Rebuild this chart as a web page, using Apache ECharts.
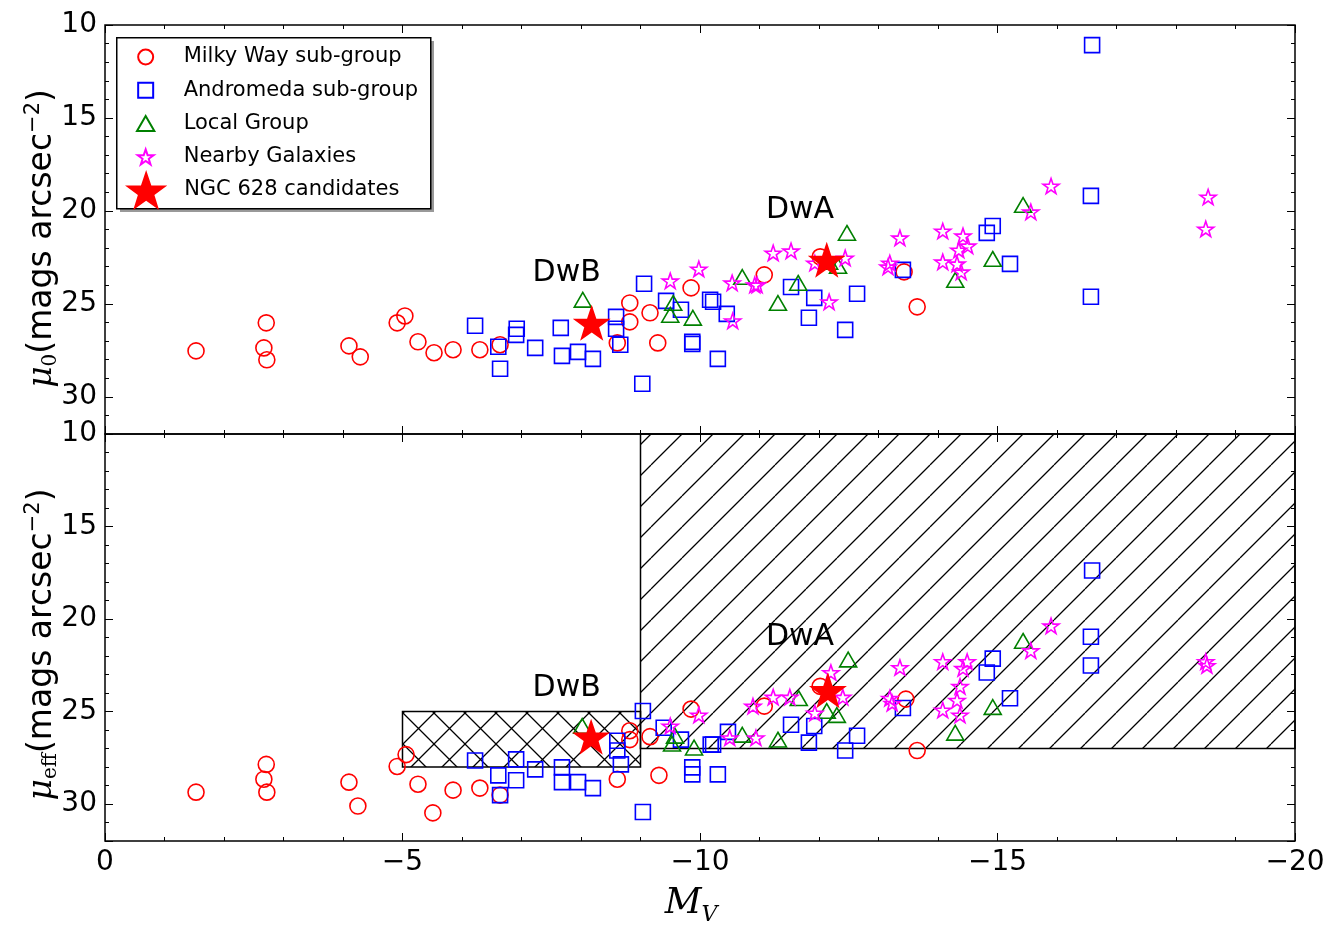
<!DOCTYPE html>
<html><head><meta charset="utf-8">
<script src="https://cdn.jsdelivr.net/npm/echarts@6/dist/echarts.min.js"></script>
<style>html,body{margin:0;padding:0;background:#fff}#c{width:1330px;height:927px}</style>
</head><body><div id="c"></div>
<script>
// ---------- data: [M_V, mu] ----------
const mwTop = [[-1.53,27.53],[-2.71,26.02],[-2.67,27.37],[-2.72,28.01],[-4.10,27.26],[-4.29,27.85],[-4.91,26.02],[-5.04,25.65],[-5.26,27.04],[-5.53,27.63],[-5.85,27.47],[-6.30,27.47],[-6.64,27.20],[-8.61,27.10],[-8.82,24.95],[-8.82,25.97],[-9.16,25.48],[-9.29,27.10],[-9.85,24.14],[-11.08,23.44],[-12.02,22.47],[-13.43,23.28],[-13.65,25.16]];
const mwBottom = [[-1.53,29.36],[-2.71,27.86],[-2.67,28.66],[-2.72,29.36],[-4.10,28.82],[-4.25,30.11],[-4.91,27.97],[-5.06,27.33],[-5.26,28.93],[-5.51,30.48],[-5.85,29.25],[-6.30,29.14],[-6.64,29.52],[-8.61,28.66],[-8.82,26.04],[-8.82,26.52],[-9.16,26.36],[-9.31,28.45],[-9.85,24.87],[-11.08,24.71],[-12.02,23.64],[-13.46,24.33],[-13.65,27.11]];
const andTop = [[-6.22,26.18],[-6.92,26.34],[-6.91,26.67],[-6.61,27.31],[-6.64,28.49],[-7.23,27.37],[-7.66,26.29],[-7.68,27.80],[-7.95,27.58],[-8.20,27.96],[-8.59,25.70],[-8.59,26.34],[-8.66,27.20],[-9.06,23.92],[-9.03,29.30],[-9.43,24.84],[-9.68,25.32],[-9.87,27.04],[-9.87,27.15],[-10.17,24.78],[-10.22,24.89],[-10.45,25.54],[-10.30,27.96],[-11.53,24.09],[-11.92,24.68],[-11.83,25.75],[-12.64,24.46],[-12.44,26.40],[-13.41,23.17],[-14.82,21.18],[-14.92,20.81],[-15.21,22.85],[-16.59,11.08],[-16.57,19.19],[-16.57,24.62]];
const andBottom = [[-6.22,27.65],[-6.61,28.45],[-6.64,29.52],[-6.91,27.59],[-6.91,28.72],[-7.23,28.13],[-7.68,28.02],[-7.68,28.82],[-7.95,28.82],[-8.20,29.14],[-8.61,26.58],[-8.61,27.11],[-8.67,27.86],[-9.04,24.97],[-9.04,30.43],[-9.39,25.88],[-9.68,26.52],[-9.87,28.02],[-9.87,28.40],[-10.18,26.79],[-10.22,26.79],[-10.47,26.10],[-10.30,28.40],[-11.53,25.72],[-11.92,25.78],[-11.83,26.68],[-12.44,27.11],[-12.64,26.31],[-13.41,24.81],[-14.92,22.14],[-14.82,22.89],[-15.21,24.28],[-16.59,17.38],[-16.57,20.96],[-16.57,22.51]];
const lgTop = [[-8.03,24.78],[-9.55,24.95],[-9.50,25.59],[-9.88,25.75],[-10.71,23.55],[-11.65,23.87],[-11.31,24.95],[-12.47,21.18],[-12.17,22.74],[-12.32,22.96],[-14.92,22.58],[-14.29,23.71],[-15.43,19.68]];
const lgBottom = [[-8.02,25.78],[-9.58,26.31],[-9.53,26.74],[-9.90,26.95],[-10.71,26.26],[-11.31,26.52],[-11.66,24.28],[-12.13,24.97],[-12.30,25.19],[-12.49,22.19],[-14.29,26.15],[-14.92,24.76],[-15.43,21.18]];
const nbTop = [[-9.50,23.76],[-9.98,23.12],[-10.54,23.87],[-10.55,25.91],[-10.92,23.98],[-10.96,23.98],[-11.23,22.26],[-11.53,22.15],[-11.93,22.80],[-12.44,22.53],[-12.17,24.89],[-13.36,21.45],[-13.19,22.80],[-13.16,23.01],[-14.08,21.08],[-14.08,22.74],[-14.42,21.34],[-14.50,21.88],[-14.35,22.10],[-14.32,22.85],[-14.39,23.28],[-15.56,20.05],[-15.90,18.66],[-18.54,19.25],[-18.50,20.97]];
const nbBottom = [[-9.50,25.78],[-9.98,25.19],[-10.50,26.42],[-10.94,26.42],[-10.89,24.71],[-11.23,24.22],[-11.51,24.22],[-11.93,25.08],[-12.20,22.89],[-12.40,24.22],[-13.36,22.62],[-13.19,24.28],[-13.23,24.55],[-14.08,22.30],[-14.08,24.92],[-14.49,22.30],[-14.42,22.67],[-14.37,23.64],[-14.32,24.39],[-14.37,25.19],[-15.56,21.71],[-15.90,20.37],[-18.50,22.30],[-18.52,22.51]];
const ngcTop = [[-8.18,26.02],[-12.13,22.63]];
const ngcBottom = [[-8.17,26.36],[-12.15,23.85]];
const annNames = ['DwB','DwA'];
const annTop = [[-7.76,23.33],[-11.68,19.95]];
const annBottom = [[-7.76,23.74],[-11.68,20.96]];
// hatched regions: [Mv1, Mv2, mu1, mu2]
const crossBox = [-5, -9, 25, 28];
const diagBox = [-9, -20, 10, 27];
const legendNames = ['Milky Way sub-group','Andromeda sub-group','Local Group','Nearby Galaxies','NGC 628 candidates'];

const STAR = 'path://M50,0 L61.8,35.1 L98.1,35.1 L68.8,56.8 L79.4,91 L50,70 L20.6,91 L31.2,56.8 L1.9,35.1 L38.2,35.1 Z';
const SQUARE = 'path://M0,0 L10,0 L10,10 L0,10 Z';
const TRI = 'path://M10,0 L20,17.3 L0,17.3 Z';

function makeHatch(size, cross) {
  const c = document.createElement('canvas');
  c.width = size; c.height = size;
  const g = c.getContext('2d');
  g.strokeStyle = '#000'; g.lineWidth = 1.3;
  g.beginPath();
  for (const k of [-size, 0, size]) {
    g.moveTo(k, size); g.lineTo(k + size, 0);
    if (cross) { g.moveTo(k, 0); g.lineTo(k + size, size); }
  }
  g.stroke();
  return c;
}
const diagPat = {image: makeHatch(31, false), repeat: 'repeat'};
const crossPat = {image: makeHatch(31, true), repeat: 'repeat'};

const chart = echarts.init(document.getElementById('c'), null, {renderer: 'canvas'});
const FONT = 'DejaVu Sans';
const tickStyle = {color: '#000', width: 1};

function xAxes(gridIndex, withLabel) {
  const base = {gridIndex, type: 'value', inverse: true, min: -20, max: 0, interval: 5,
    axisLine: {show: false}, splitLine: {show: false},
    axisTick: {show: true, inside: true, length: 8, lineStyle: tickStyle},
    minorTick: {show: true, splitNumber: 5, length: 4, lineStyle: tickStyle}};
  const bottom = Object.assign({}, base, {position: 'bottom',
    axisLabel: withLabel ? {show: true, fontFamily: FONT, fontSize: 28, color: '#000', margin: 8,
      formatter: v => v === 0 ? '0' : '\u2212' + Math.abs(v)} : {show: false}});
  if (withLabel) {
    Object.assign(bottom, {name: '{m|M}{s|V}', nameLocation: 'middle', nameGap: 41,
      nameTextStyle: {padding: [0, 18, 0, 0], rich: {
        m: {fontFamily: 'DejaVu Serif', fontStyle: 'italic', fontSize: 36, color: '#000', lineHeight: 44},
        s: {fontFamily: 'DejaVu Serif', fontStyle: 'italic', fontSize: 22, color: '#000', lineHeight: 22, verticalAlign: 'bottom'}}}});
  }
  const top = Object.assign({}, base, {position: 'top', axisLabel: {show: false}});
  return [bottom, top];
}
function yAxes(gridIndex, name, shift) {
  const base = {gridIndex, type: 'value', inverse: true, min: 10, max: 32,
    axisLine: {show: false}, splitLine: {show: false}};
  const lminor = Object.assign({}, base, {position: 'left', interval: 1,
    axisTick: {show: true, inside: true, length: 4, lineStyle: tickStyle},
    axisLabel: {show: true, fontFamily: FONT, fontSize: 28, color: '#000', margin: 8,
      formatter: v => (v % 5 === 0 && v <= 30) ? String(v) : ''},
    name, nameLocation: 'middle', nameGap: 44, nameMoveOverlap: false,
    nameTextStyle: {padding: [0, shift, 0, 0], rich: {
      i: {fontFamily: 'DejaVu Serif', fontStyle: 'italic', fontSize: 33, color: '#000', lineHeight: 38},
      t: {fontFamily: FONT, fontSize: 33, color: '#000', lineHeight: 38},
      sub: {fontFamily: 'DejaVu Serif', fontSize: 20, color: '#000', lineHeight: 18, verticalAlign: 'bottom'},
      sup: {fontFamily: FONT, fontSize: 21, color: '#000', lineHeight: 22, verticalAlign: 'top'}}}});
  const lmajor = Object.assign({}, base, {position: 'left', interval: 5,
    axisTick: {show: true, inside: true, length: 8, lineStyle: tickStyle}, axisLabel: {show: false}});
  const rminor = Object.assign({}, base, {position: 'right', interval: 1,
    axisTick: {show: true, inside: true, length: 4, lineStyle: tickStyle}, axisLabel: {show: false}});
  const rmajor = Object.assign({}, base, {position: 'right', interval: 5,
    axisTick: {show: true, inside: true, length: 8, lineStyle: tickStyle}, axisLabel: {show: false}});
  return [lminor, lmajor, rminor, rmajor];
}

function hollow(name, data, symbol, size, color, xi, yi) {
  return {type: 'scatter', name, data, symbol, symbolSize: size, xAxisIndex: xi, yAxisIndex: yi,
    symbolKeepAspect: true, silent: true,
    itemStyle: {color: 'rgba(255,255,255,0)', borderColor: color, borderWidth: 1.6, opacity: 1}};
}
function ngc(data, xi, yi) {
  return {type: 'scatter', name: legendNames[4], data, symbol: STAR, symbolSize: 38, symbolKeepAspect: true,
    xAxisIndex: xi, yAxisIndex: yi, silent: true, itemStyle: {color: '#ff0000', opacity: 1}};
}
function ann(data, xi, yi) {
  return {type: 'scatter', name: 'ann', data: data.map((d, i) => ({name: annNames[i], value: d})),
    symbolSize: 0, xAxisIndex: xi, yAxisIndex: yi, silent: true, z: 5, itemStyle: {opacity: 1},
    label: {show: true, position: 'inside', formatter: '{b}', fontFamily: FONT, fontSize: 30, color: '#000', opacity: 1}};
}
function hatch(box, pat) {
  return {type: 'custom', name: 'hatch', xAxisIndex: 2, yAxisIndex: 4, silent: true, z: 1,
    data: [box], encode: {x: [0, 1], y: [2, 3]},
    renderItem(params, api) {
      const p1 = api.coord([api.value(0), api.value(2)]);
      const p2 = api.coord([api.value(1), api.value(3)]);
      const x = Math.min(p1[0], p2[0]), y = Math.min(p1[1], p2[1]);
      return {type: 'rect', shape: {x, y, width: Math.abs(p2[0] - p1[0]), height: Math.abs(p2[1] - p1[1])},
        style: {fill: pat, stroke: '#000', lineWidth: 1.5}};
    }};
}

const option = {
  animation: false,
  backgroundColor: '#fff',
  textStyle: {fontFamily: FONT},
  grid: [
    {left: 105, top: 25, width: 1190, height: 409, show: true, borderColor: '#000', borderWidth: 1.5, backgroundColor: 'transparent'},
    {left: 105, top: 434, width: 1190, height: 410, show: true, borderColor: '#000', borderWidth: 1.5, backgroundColor: 'transparent'}
  ],
  xAxis: [...xAxes(0, false), ...xAxes(1, true)],
  yAxis: [...yAxes(0, '{i|μ}{sub|0}{t|(mags arcsec}{sup|−2}{t|)}', 18), ...yAxes(1, '{i|μ}{sub|eff}{t|(mags arcsec}{sup|−2}{t|)}', 14)],
  graphic: [
    {type: 'rect', left: 120, top: 41, shape: {width: 314, height: 171}, style: {fill: '#999'}, z: 10},
    {type: 'rect', left: 116, top: 37, shape: {width: 314, height: 171}, style: {fill: '#fff', stroke: '#000', lineWidth: 1.5}, z: 11}
  ],
  legend: [
    {data: legendNames.slice(0, 4), orient: 'vertical', left: 131, top: 41.5, itemWidth: 66, itemHeight: 15,
      itemGap: 12.3, selectedMode: false, z: 20, symbolKeepAspect: true,
      textStyle: {fontFamily: FONT, fontSize: 21, color: '#000'}},
    {data: legendNames.slice(4), orient: 'vertical', left: 120, top: 165, itemWidth: 66, itemHeight: 40,
      selectedMode: false, z: 20, symbolKeepAspect: true,
      textStyle: {fontFamily: FONT, fontSize: 21, color: '#000'}}
  ],
  series: [
    hatch(diagBox, diagPat),
    hatch(crossBox, crossPat),
    hollow(legendNames[0], mwTop, 'circle', 16, '#ff0000', 0, 0),
    hollow(legendNames[1], andTop, SQUARE, 15, '#0000ff', 0, 0),
    hollow(legendNames[2], lgTop, TRI, 17, '#008000', 0, 0),
    hollow(legendNames[3], nbTop, STAR, 16, '#ff00ff', 0, 0),
    ngc(ngcTop, 0, 0),
    ann(annTop, 0, 0),
    hollow(legendNames[0], mwBottom, 'circle', 16, '#ff0000', 2, 4),
    hollow(legendNames[1], andBottom, SQUARE, 15, '#0000ff', 2, 4),
    hollow(legendNames[2], lgBottom, TRI, 17, '#008000', 2, 4),
    hollow(legendNames[3], nbBottom, STAR, 16, '#ff00ff', 2, 4),
    ngc(ngcBottom, 2, 4),
    ann(annBottom, 2, 4)
  ]
};
chart.setOption(option);
</script></body></html>
